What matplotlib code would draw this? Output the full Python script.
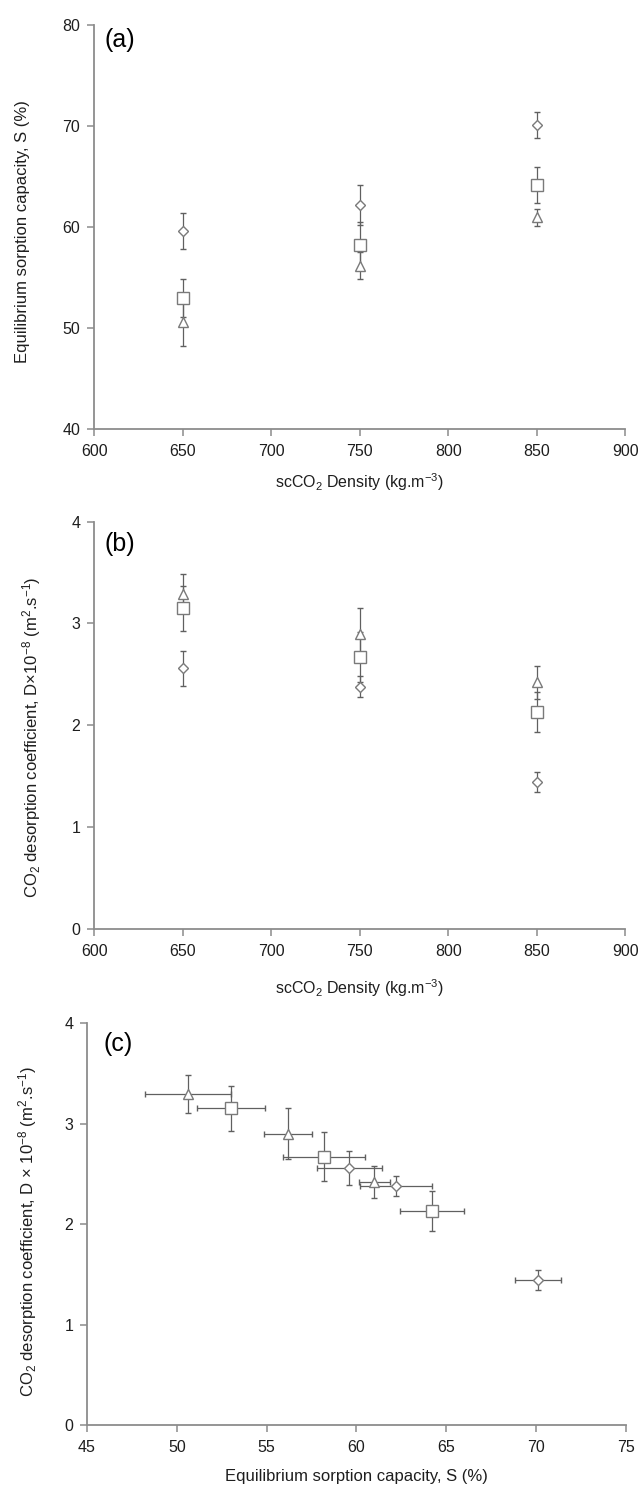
import matplotlib
matplotlib.use("Agg")
import matplotlib.pyplot as plt
import numpy as np

plt.rcParams['font.family'] = ['Liberation Sans', 'DejaVu Sans']
plt.rcParams['mathtext.fontset'] = 'custom'
plt.rcParams['mathtext.rm'] = 'Liberation Sans'
plt.rcParams['mathtext.it'] = 'Liberation Sans'
plt.rcParams['mathtext.default'] = 'regular'

# ---- data ----
density = [650, 750, 850]

# Equilibrium sorption capacity S (%) and errors, per series
S_diamond = [59.6, 62.2, 70.1]
S_diamond_err = [1.8, 2.0, 1.3]
S_square = [53.0, 58.2, 64.2]
S_square_err = [1.9, 2.3, 1.8]
S_triangle = [50.6, 56.2, 61.0]
S_triangle_err = [2.4, 1.35, 0.85]

# Desorption coefficient D (x1e-8 m2/s) and errors
D_diamond = [2.56, 2.38, 1.44]
D_diamond_err = [0.17, 0.10, 0.10]
D_square = [3.15, 2.67, 2.13]
D_square_err = [0.22, 0.245, 0.20]
D_triangle = [3.29, 2.90, 2.42]
D_triangle_err = [0.19, 0.25, 0.16]

x_ticks_density = [600, 650, 700, 750, 800, 850, 900]
y_ticks_S = [40, 50, 60, 70, 80]
y_ticks_D = [0, 1, 2, 3, 4]
x_ticks_S = [45, 50, 55, 60, 65, 70, 75]

GRAY = '#7a7a7a'
SPINE = '#8c8c8c'
TXT = '#1e1e1e'

series = [
    ('D', 5.5, S_diamond, S_diamond_err, D_diamond, D_diamond_err),
    ('s', 8.5, S_square, S_square_err, D_square, D_square_err),
    ('^', 7.5, S_triangle, S_triangle_err, D_triangle, D_triangle_err),
]

fig = plt.figure(figsize=(6.4, 14.9), dpi=100)
ax_a = fig.add_axes([0.147, 0.712, 0.830, 0.271])
ax_b = fig.add_axes([0.147, 0.3765, 0.830, 0.2735])
ax_c = fig.add_axes([0.136, 0.0436, 0.842, 0.2698])


def style(ax):
    for s in ['top', 'right']:
        ax.spines[s].set_visible(False)
    for s in ['left', 'bottom']:
        ax.spines[s].set_color(SPINE)
        ax.spines[s].set_linewidth(1.3)
    ax.tick_params(direction='out', length=5, width=1.1, color=SPINE,
                   labelsize=11.5, labelcolor=TXT)
    ax.tick_params(axis='x', pad=6)
    ax.tick_params(axis='y', pad=5)


eb_kw = dict(ecolor='#606060', elinewidth=0.9, capsize=2, capthick=0.9,
             linestyle='none', mfc='white', mec=GRAY, mew=1.0)

# (a)
for m, ms, S, Se, D, De in series:
    ax_a.errorbar(density, S, yerr=Se, marker=m, ms=ms, **eb_kw)
ax_a.set_xlim(600, 900)
ax_a.set_ylim(40, 80)
ax_a.set_xticks(x_ticks_density)
ax_a.set_yticks(y_ticks_S)
style(ax_a)
ax_a.set_xlabel('scCO$_2$ Density (kg.m$^{-3}$)', fontsize=11.5, color=TXT)
ax_a.set_ylabel('Equilibrium sorption capacity, S (%)', fontsize=12, color=TXT)
ax_a.xaxis.set_label_coords(0.5, -0.104)
ax_a.yaxis.set_label_coords(-0.12, 0.49)
ax_a.text(0.02, 0.993, '(a)', transform=ax_a.transAxes, fontsize=18, va='top', ha='left')

# (b)
for m, ms, S, Se, D, De in series:
    ax_b.errorbar(density, D, yerr=De, marker=m, ms=ms, **eb_kw)
ax_b.set_xlim(600, 900)
ax_b.set_ylim(0, 4)
ax_b.set_xticks(x_ticks_density)
ax_b.set_yticks(y_ticks_D)
style(ax_b)
ax_b.set_xlabel('scCO$_2$ Density (kg.m$^{-3}$)', fontsize=11.5, color=TXT)
ax_b.set_ylabel('CO$_2$ desorption coefficient, D\u00d710$^{-8}$ (m$^2$.s$^{-1}$)',
                fontsize=12, color=TXT)
ax_b.xaxis.set_label_coords(0.5, -0.118)
ax_b.yaxis.set_label_coords(-0.096, 0.47)
ax_b.text(0.02, 0.975, '(b)', transform=ax_b.transAxes, fontsize=18, va='top', ha='left')

# (c)
for m, ms, S, Se, D, De in series:
    ax_c.errorbar(S, D, xerr=Se, yerr=De, marker=m, ms=ms, **eb_kw)
ax_c.set_xlim(45, 75)
ax_c.set_ylim(0, 4)
ax_c.set_xticks(x_ticks_S)
ax_c.set_yticks(y_ticks_D)
style(ax_c)
ax_c.set_xlabel('Equilibrium sorption capacity, S (%)', fontsize=12, color=TXT)
ax_c.set_ylabel('CO$_2$ desorption coefficient, D \u00d7 10$^{-8}$ (m$^2$.s$^{-1}$)',
                fontsize=12, color=TXT)
ax_c.xaxis.set_label_coords(0.5, -0.109)
ax_c.yaxis.set_label_coords(-0.089, 0.48)
ax_c.text(0.03, 0.978, '(c)', transform=ax_c.transAxes, fontsize=18, va='top', ha='left')

fig.savefig('out.png', dpi=100)
